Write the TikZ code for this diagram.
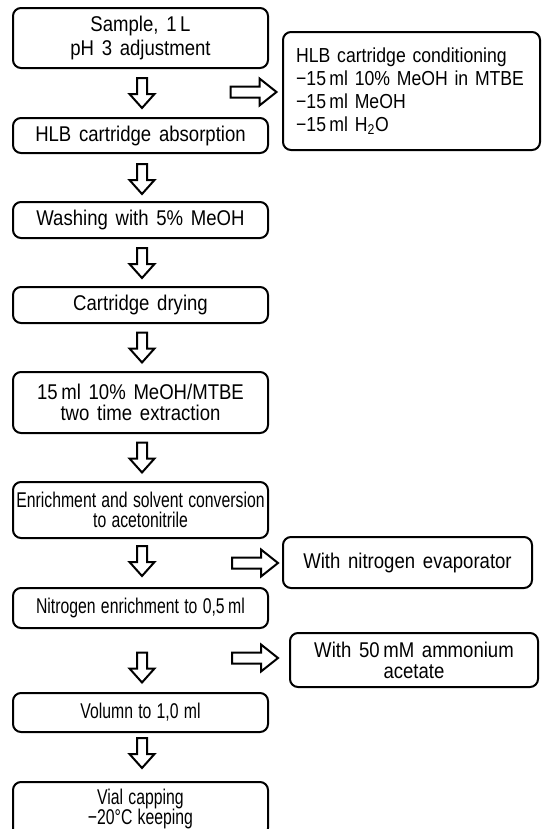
\documentclass[tikz,border=0pt]{standalone}
\usepackage{fontspec}
\setmainfont[FakeStretch=0.87, WordSpace=1.5]{Liberation Sans}
\newfontfamily\narrowfont[FakeStretch=0.74, WordSpace=1.2]{Liberation Sans}
\begin{document}
\begin{tikzpicture}[x=0.75pt,y=-0.75pt,
  box/.style={draw, line width=1.5pt, rounded corners=6pt, align=center,
    inner sep=0pt, font=\fontsize{16}{18}\selectfont},
  arrowline/.style={draw, fill=white, line width=1.5pt, line join=miter},
  downarr/.pic={\draw[arrowline] (-5,-15) -- (5,-15) -- (5,1) -- (12.5,1)
    -- (0,15) -- (-12.5,1) -- (-5,1) -- cycle;},
  rightarr/.pic={\draw[arrowline] (-23,-5.5) -- (6,-5.5) -- (6,-13.5) -- (23,0)
    -- (6,13.5) -- (6,5.5) -- (-23,5.5) -- cycle;}
]
\useasboundingbox (0,0) rectangle (545,829);
\fill[white] (0,0) rectangle (545,829);

% main column
\node[box, minimum width=191.25pt, minimum height=45pt] (b1) at (140.5,38)
  {Sample, 1\,L\\pH 3 adjustment};
\node[box, minimum width=191.25pt, minimum height=26.25pt] (b2) at (140.5,135.5)
  {HLB cartridge absorption};
\node[box, minimum width=191.25pt, minimum height=27pt] (b3) at (140.5,220)
  {Washing with 5\% MeOH};
\node[box, minimum width=191.25pt, minimum height=27pt] (b4) at (140.5,305)
  {Cartridge drying};
\node[box, minimum width=191.25pt, minimum height=45.75pt,
  font=\fontsize{16}{15.5}\selectfont] (b5) at (140.5,402.5)
  {15\,ml 10\% MeOH/MTBE\\two time extraction};
\node[box, minimum width=191.25pt, minimum height=42pt,
  font=\narrowfont\fontsize{16}{15.5}\selectfont] (b6) at (140.5,510)
  {Enrichment and solvent conversion\\to acetonitrile};
\node[box, minimum width=191.25pt, minimum height=30pt,
  font=\narrowfont\fontsize{16}{18}\selectfont] (b7) at (140.5,608)
  {Nitrogen enrichment to 0,5\,ml};
\node[box, minimum width=191.25pt, minimum height=29.25pt,
  font=\narrowfont\fontsize{16}{18}\selectfont] (b8) at (140.5,712.5)
  {Volumn to 1,0 ml};
\node[box, minimum width=191.25pt, minimum height=40.5pt,
  font=\narrowfont\fontsize{16}{15.5}\selectfont] (b9) at (140.5,809)
  {Vial capping\\−20°C keeping};

% side boxes
\node[box, minimum width=192.75pt, minimum height=88.5pt, text width=173pt,
  align=left, font=\fontsize{15.2}{17.25}\selectfont] (r1) at (411.5,91)
  {\mbox{HLB cartridge conditioning}\\\mbox{−15\,ml 10\% MeOH in MTBE}\\\mbox{−15\,ml MeOH}\\\mbox{−15\,ml H\textsubscript{2}O}};
\node[box, minimum width=186.75pt, minimum height=38.25pt] (r2) at (407.5,562.5)
  {With nitrogen evaporator};
\node[box, minimum width=186pt, minimum height=40.5pt,
  font=\fontsize{16}{15.75}\selectfont] (r3) at (414,660)
  {With 50\,mM ammonium\\acetate};

% down arrows
\pic (a1) at (142,93) {downarr};
\pic (a2) at (142,179) {downarr};
\pic (a3) at (142,263) {downarr};
\pic (a4) at (142,347.5) {downarr};
\pic (a5) at (142,457.5) {downarr};
\pic (a6) at (142,561) {downarr};
\pic (a7) at (142,667.5) {downarr};
\pic (a8) at (142,753) {downarr};

% side arrows
\pic (s1) at (253.5,92) {rightarr};
\pic (s2) at (255,563) {rightarr};
\pic (s3) at (255,658) {rightarr};
\end{tikzpicture}
\end{document}
